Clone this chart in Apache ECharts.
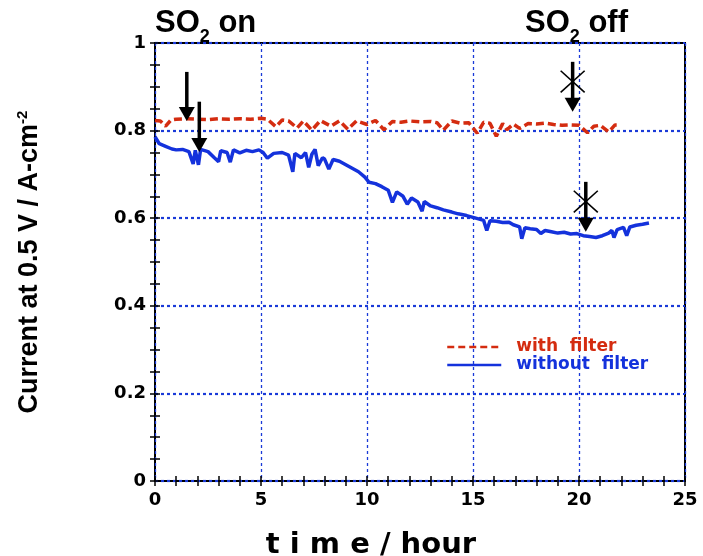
<!DOCTYPE html>
<html>
<head>
<meta charset="utf-8">
<script src="https://cdn.jsdelivr.net/npm/echarts@6/dist/echarts.min.js"></script>
<style>
html,body{margin:0;padding:0;background:#fff;}
#chart{width:703px;height:556px;}
</style>
</head>
<body>
<div id="chart"></div>
<script>
// ---- data ----
const hoursWith = [0, 0.25, 0.5, 0.75, 1, 1.5, 2, 2.5, 3, 3.5, 4, 4.5, 5, 5.3, 5.7, 6, 6.3, 6.7, 7, 7.4, 7.8, 8.3, 8.7, 9.1, 9.5, 10, 10.4, 10.8, 11.2, 11.6, 12, 12.5, 13, 13.3, 13.6, 14, 14.4, 14.8, 15.2, 15.5, 15.8, 16.1, 16.4, 16.6, 16.9, 17.2, 17.6, 18, 18.4, 18.8, 19.2, 19.6, 20, 20.4, 20.7, 21, 21.4, 21.7, 21.9];
const currentWith = [0.823, 0.822, 0.810, 0.824, 0.826, 0.827, 0.826, 0.825, 0.827, 0.826, 0.827, 0.826, 0.828, 0.826, 0.809, 0.824, 0.822, 0.806, 0.822, 0.801, 0.823, 0.810, 0.822, 0.803, 0.822, 0.814, 0.823, 0.802, 0.821, 0.819, 0.822, 0.820, 0.821, 0.818, 0.801, 0.822, 0.817, 0.818, 0.794, 0.819, 0.817, 0.787, 0.816, 0.802, 0.815, 0.805, 0.816, 0.815, 0.817, 0.814, 0.812, 0.813, 0.812, 0.795, 0.810, 0.812, 0.797, 0.813, 0.813];

const hoursWithout = [0, 0.2, 0.5, 0.8, 1.0, 1.3, 1.6, 1.8, 1.9, 2.05, 2.15, 2.5, 2.8, 3.0, 3.1, 3.4, 3.55, 3.7, 4.0, 4.3, 4.6, 4.9, 5.1, 5.3, 5.6, 6.0, 6.3, 6.5, 6.6, 6.9, 7.1, 7.25, 7.4, 7.55, 7.7, 7.9, 8.0, 8.2, 8.4, 8.7, 9.0, 9.3, 9.6, 9.9, 10.1, 10.4, 10.7, 11.0, 11.2, 11.4, 11.7, 11.9, 12.1, 12.4, 12.6, 12.7, 13.0, 13.3, 13.6, 14.0, 14.3, 14.7, 15.0, 15.3, 15.5, 15.65, 15.8, 16.1, 16.4, 16.7, 16.9, 17.2, 17.3, 17.45, 17.7, 18.0, 18.2, 18.4, 18.7, 19.0, 19.3, 19.6, 19.9, 20.2, 20.5, 20.8, 21.1, 21.4, 21.55, 21.65, 21.8, 22.1, 22.25, 22.4, 22.7, 23.0, 23.3];
const currentWithout = [0.786, 0.770, 0.764, 0.758, 0.756, 0.757, 0.752, 0.724, 0.755, 0.722, 0.757, 0.752, 0.738, 0.729, 0.754, 0.750, 0.728, 0.756, 0.749, 0.755, 0.752, 0.756, 0.750, 0.737, 0.748, 0.750, 0.744, 0.706, 0.748, 0.738, 0.750, 0.716, 0.746, 0.757, 0.720, 0.738, 0.735, 0.712, 0.734, 0.730, 0.722, 0.714, 0.706, 0.694, 0.682, 0.679, 0.672, 0.664, 0.636, 0.660, 0.650, 0.632, 0.646, 0.637, 0.616, 0.638, 0.628, 0.624, 0.619, 0.614, 0.610, 0.606, 0.602, 0.598, 0.595, 0.572, 0.594, 0.593, 0.590, 0.591, 0.585, 0.580, 0.553, 0.578, 0.576, 0.574, 0.565, 0.572, 0.569, 0.566, 0.568, 0.564, 0.565, 0.560, 0.558, 0.556, 0.560, 0.566, 0.572, 0.556, 0.574, 0.579, 0.560, 0.580, 0.584, 0.586, 0.589];

// annotation arrows (data coordinates)
const arrowHours = [1.5, 2.09, 19.7, 20.32];
const arrowTop = [0.934, 0.866, 0.957, 0.683];
const arrowTip = [0.822, 0.751, 0.843, 0.569];
const crossHours = [19.7, 20.32];
const crossCurrent = [0.912, 0.638];

const xTicks = [0, 5, 10, 15, 20, 25];
const yTicks = [0, 0.2, 0.4, 0.6, 0.8, 1];

const RED = '#d42c10';
const BLUE = '#1432dc';
const GRIDBLUE = '#1a3ad8';

const chart = echarts.init(document.getElementById('chart'), null, {renderer: 'canvas'});

const seriesWith = hoursWith.map((h, i) => [h, currentWith[i]]);
const seriesWithout = hoursWithout.map((h, i) => [h, currentWithout[i]]);
const arrowData = arrowHours.map((h, i) => [h, arrowTop[i], arrowTip[i]]);
const crossData = crossHours.map((h, i) => [h, crossCurrent[i]]);

const tickFont = {fontFamily: 'DejaVu Sans', fontWeight: 'bold', fontSize: 18, color: '#000'};

const option = {
  animation: false,
  backgroundColor: '#fff',
  grid: {left: 155, right: 18, top: 43, bottom: 75, show: true, borderColor: '#000', borderWidth: 2,
         backgroundColor: 'transparent', containLabel: false, outerBoundsMode: 'none'},
  legend: {
    left: 441, top: 333, orient: 'vertical', itemWidth: 54, itemHeight: 10, itemGap: 0,
    itemStyle: {opacity: 0},
    data: [
      {name: 'with  filter', textStyle: {color: RED}, lineStyle: {width: 2.5, type: [7, 4]}},
      {name: 'without  filter', textStyle: {color: BLUE}, lineStyle: {width: 2.5}}
    ],
    textStyle: {fontFamily: 'DejaVu Sans', fontWeight: 'bold', fontSize: 17, lineHeight: 18, padding: [0, 0, 0, 10]}
  },
  xAxis: [{
    type: 'value', min: xTicks[0], max: xTicks[xTicks.length - 1], interval: 5,
    axisLine: {show: false},
    axisTick: {show: true, inside: true, length: 5, lineStyle: {color: '#000', width: 1.5}},
    minorTick: {show: true, splitNumber: 5, length: 5, lineStyle: {color: '#000', width: 1.5}},
    splitLine: {show: true, lineStyle: {color: GRIDBLUE, width: 1.3, type: [3, 3]}},
    axisLabel: Object.assign({margin: 10}, tickFont),
    name: 't i m e / hour', nameLocation: 'middle', nameGap: 50,
    nameTextStyle: {fontFamily: 'DejaVu Sans', fontWeight: 'bold', fontSize: 29, color: '#000', padding: [0, 98, 0, 0]}
  }, {
    type: 'value', position: 'top', min: xTicks[0], max: xTicks[xTicks.length - 1], interval: 5,
    axisLine: {show: false},
    axisTick: {show: true, inside: true, length: 5, lineStyle: {color: '#000', width: 1.5}},
    minorTick: {show: true, splitNumber: 5, length: 5, lineStyle: {color: '#000', width: 1.5}},
    splitLine: {show: false}, axisLabel: {show: false}
  }],
  yAxis: [{
    type: 'value', min: yTicks[0], max: yTicks[yTicks.length - 1], interval: 0.2,
    axisLine: {show: false},
    axisTick: {show: true, inside: true, length: 5, lineStyle: {color: '#000', width: 1.5}},
    minorTick: {show: true, splitNumber: 4, length: 5, lineStyle: {color: '#000', width: 1.5}},
    splitLine: {show: true, lineStyle: {color: GRIDBLUE, width: 2.2, type: [3, 3]}},
    axisLabel: Object.assign({margin: 9, formatter: v => String(Math.round(v * 10) / 10)}, tickFont),
    name: '{a|Current at 0.5 V / A-cm}{b|-2}', nameLocation: 'middle', nameRotate: 90, nameGap: 110,
    nameTextStyle: {
      color: '#000',
      rich: {
        a: {fontFamily: 'Liberation Sans', fontWeight: 'bold', fontSize: 27, lineHeight: 30, color: '#000'},
        b: {fontFamily: 'Liberation Sans', fontWeight: 'bold', fontSize: 15, lineHeight: 16, verticalAlign: 'top', color: '#000'}
      }
    }
  }, {
    type: 'value', position: 'right', min: yTicks[0], max: yTicks[yTicks.length - 1], interval: 0.2,
    axisLine: {show: false},
    axisTick: {show: true, inside: true, length: 5, lineStyle: {color: '#000', width: 1.5}},
    minorTick: {show: true, splitNumber: 4, length: 5, lineStyle: {color: '#000', width: 1.5}},
    splitLine: {show: false}, axisLabel: {show: false}
  }],
  graphic: [
    {
      type: 'text', left: 155, top: 8,
      style: {
        text: '{a|SO}{s|2}{a| on}',
        rich: {
          a: {fontFamily: 'Liberation Sans', fontWeight: 'bold', fontSize: 31, lineHeight: 46, fill: '#000'},
          s: {fontFamily: 'Liberation Sans', fontWeight: 'bold', fontSize: 18, lineHeight: 12, verticalAlign: 'bottom', fill: '#000'}
        }
      }
    },
    {
      type: 'text', left: 525, top: 8,
      style: {
        text: '{a|SO}{s|2}{a| off}',
        rich: {
          a: {fontFamily: 'Liberation Sans', fontWeight: 'bold', fontSize: 31, lineHeight: 46, fill: '#000'},
          s: {fontFamily: 'Liberation Sans', fontWeight: 'bold', fontSize: 18, lineHeight: 12, verticalAlign: 'bottom', fill: '#000'}
        }
      }
    }
  ],
  series: [
    {
      name: 'with  filter', type: 'line', data: seriesWith, symbol: 'none', showSymbol: false,
      lineStyle: {color: RED, width: 3.5, type: [8, 4]}, itemStyle: {color: RED}, z: 3
    },
    {
      name: 'without  filter', type: 'line', data: seriesWithout, symbol: 'none', showSymbol: false,
      lineStyle: {color: BLUE, width: 3.5}, itemStyle: {color: BLUE}, z: 3
    },
    {
      type: 'custom', data: arrowData, z: 5, silent: true,
      renderItem: function (params, api) {
        const top = api.coord([api.value(0), api.value(1)]);
        const tip = api.coord([api.value(0), api.value(2)]);
        const headH = 14, headW = 8;
        return {
          type: 'group',
          children: [
            {type: 'line', shape: {x1: top[0], y1: top[1], x2: tip[0], y2: tip[1] - headH + 1}, style: {stroke: '#000', lineWidth: 3.5}},
            {type: 'polygon', shape: {points: [[tip[0] - headW, tip[1] - headH], [tip[0] + headW, tip[1] - headH], [tip[0], tip[1]]]}, style: {fill: '#000'}}
          ]
        };
      }
    },
    {
      type: 'custom', data: crossData, z: 5, silent: true,
      renderItem: function (params, api) {
        const c = api.coord([api.value(0), api.value(1)]);
        const r = 12;
        return {
          type: 'group',
          children: [
            {type: 'line', shape: {x1: c[0] - r, y1: c[1] - r * 0.9, x2: c[0] + r, y2: c[1] + r * 0.9}, style: {stroke: '#000', lineWidth: 1.6}},
            {type: 'line', shape: {x1: c[0] - r, y1: c[1] + r * 0.9, x2: c[0] + r, y2: c[1] - r * 0.9}, style: {stroke: '#000', lineWidth: 1.6}}
          ]
        };
      }
    }
  ]
};
chart.setOption(option);
</script>
</body>
</html>
